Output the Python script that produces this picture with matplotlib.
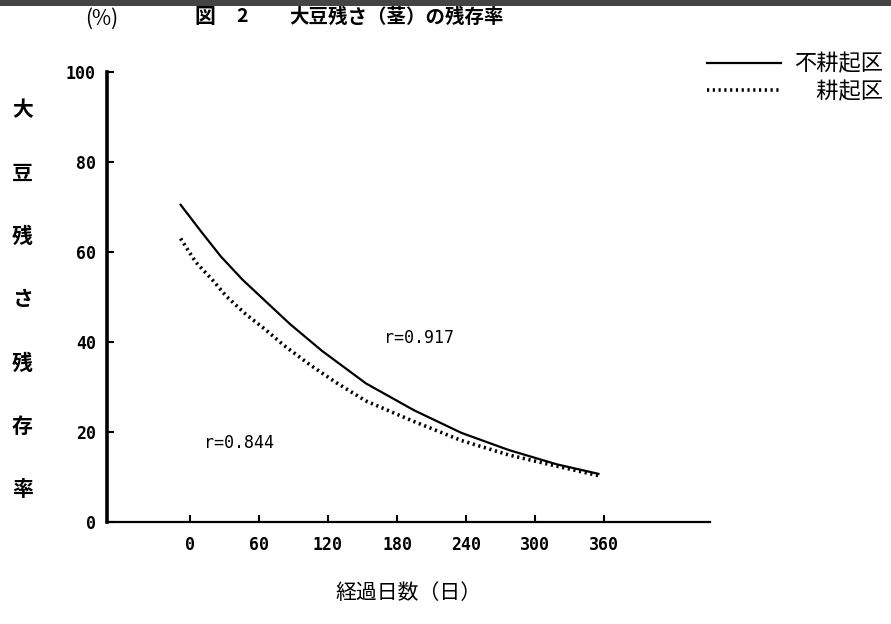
import matplotlib
matplotlib.use("Agg")
import matplotlib.pyplot as plt
from matplotlib.patches import Rectangle

plt.rcParams['font.family'] = ['Noto Sans CJK JP', 'DejaVu Sans']

# 不耕起区 (solid), values
days_notill = [-8, 10, 27, 46, 87, 115, 143, 153, 195, 236, 277, 319, 355]
rate_notill = [70.5, 64.5, 59, 53.8, 44, 38, 32.7, 30.8, 24.8, 19.8, 16, 12.8, 10.7]

# 耕起区 (dotted)
days_till = [-8, 5, 20, 32, 49, 66, 82, 104, 127, 153, 195, 236, 277, 319, 355]
rate_till = [63, 57.8, 53.7, 50.1, 46.1, 42.7, 39.2, 35, 31, 26.9, 22.3, 18.1, 14.9, 12.4, 10.3]

x_ticks = [0, 60, 120, 180, 240, 300, 360]
y_ticks = [0, 20, 40, 60, 80, 100]
ylabel_chars = ['大', '豆', '残', 'さ', '残', '存', '率']

fig = plt.figure(figsize=(8.91, 6.24), dpi=100)
ax = fig.add_axes([0.120, 0.1635, 0.677, 0.721])

ax.plot(days_notill, rate_notill, color='black', lw=1.6, label='不耕起区')
ax.plot(days_till, rate_till, color='black', lw=2.6, ls=(0, (0.6, 1.0)), label='\u3000耕起区')

ax.set_xlim(-72, 452)
ax.set_ylim(0, 100)
ax.spines['top'].set_visible(False)
ax.spines['right'].set_visible(False)
ax.spines['left'].set_linewidth(2.6)
ax.spines['bottom'].set_linewidth(1.6)

ax.set_xticks(x_ticks)
ax.set_yticks(y_ticks)
ax.tick_params(axis='both', direction='in', length=5, width=1.5, labelsize=12)
ax.tick_params(axis='y', pad=8)
ax.tick_params(axis='x', pad=10)
for lab in ax.get_xticklabels() + ax.get_yticklabels():
    lab.set_fontfamily('DejaVu Sans Mono')
    lab.set_fontweight('bold')

ax.set_xlabel('経過日数（日）', fontsize=15, labelpad=20)

# vertical y label, one character per line
for i, ch in enumerate(ylabel_chars):
    fig.text(0.025, 0.824 - i * 0.1015, ch, fontsize=15, fontweight='bold',
             ha='center', va='center')

fig.text(0.095, 0.970, '(%)', fontsize=15, ha='left', va='center')
fig.text(0.230, 0.973, '図', fontsize=15, fontweight='bold', ha='center', va='center')
fig.text(0.272, 0.973, '2', fontsize=14, fontweight='bold', ha='center', va='center')
fig.text(0.325, 0.973, '大豆残さ（茎）の残存率', fontsize=14, fontweight='bold',
         ha='left', va='center')

ax.text(199, 41, 'r=0.917', fontsize=12, family='DejaVu Sans Mono', ha='center', va='center')
ax.text(43, 17.5, 'r=0.844', fontsize=12, family='DejaVu Sans Mono', ha='center', va='center')

fig.legend(loc='upper right', bbox_to_anchor=(1.006, 0.937), frameon=False,
           fontsize=16, handlelength=3.3, labelspacing=0.2, handletextpad=0.6,
           borderaxespad=0.2)

# dark scan edge along the top
fig.add_artist(Rectangle((0, 0.991), 1, 0.009, transform=fig.transFigure,
                         color='#444444', lw=0))

fig.savefig('out.png', dpi=100)
